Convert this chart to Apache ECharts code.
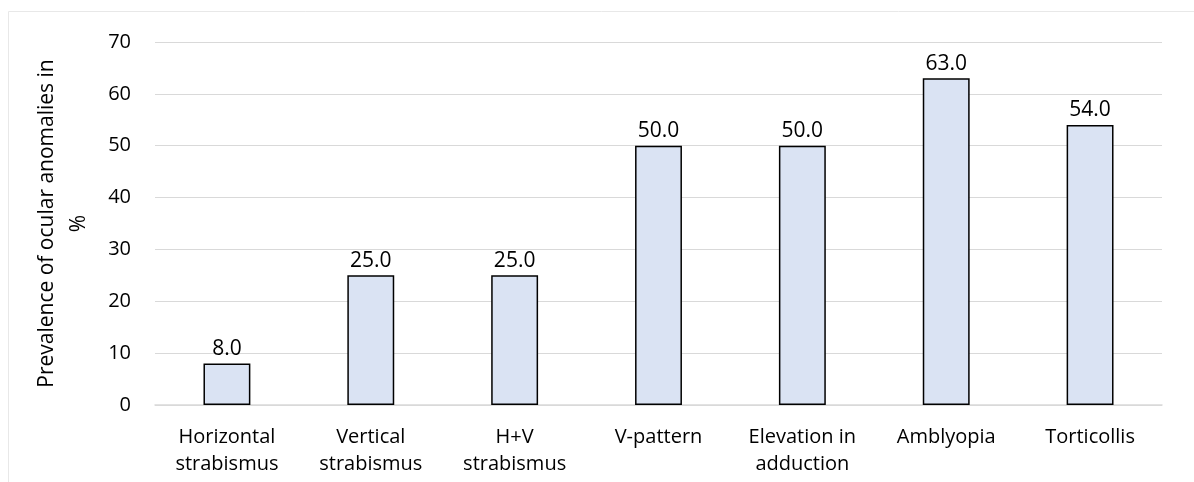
<!DOCTYPE html>
<html>
<head>
<meta charset="utf-8">
<script src="https://cdn.jsdelivr.net/npm/echarts@6/dist/echarts.min.js"></script>
<style>
html,body{margin:0;padding:0;background:#fff;}
#chart{width:1194px;height:482px;}
</style>
</head>
<body>
<div id="chart"></div>
<script>
const categories = ["Horizontal\nstrabismus", "Vertical\nstrabismus", "H+V\nstrabismus", "V-pattern", "Elevation in\nadduction", "Amblyopia", "Torticollis"];
const prevalence = [8.0, 25.0, 25.0, 50.0, 50.0, 63.0, 54.0];
const yAxisTitle = "Prevalence of ocular anomalies in\n%";
const yMin = 0, yMax = 70, yInterval = 10;

const chart = echarts.init(document.getElementById('chart'));
const font = "'Open Sans', sans-serif";
chart.setOption({
  animation: false,
  backgroundColor: '#ffffff',
  graphic: [{
    type: 'rect',
    shape: { x: 8.5, y: 11.5, width: 1200, height: 500 },
    style: { fill: 'none', stroke: '#e8e8e8', lineWidth: 1 },
    silent: true
  }],
  grid: { left: 155, right: 32, top: 42, bottom: 77 },
  xAxis: {
    type: 'category',
    data: categories,
    axisTick: { show: false },
    axisLine: { lineStyle: { color: '#d9d9d9', width: 1.5 } },
    axisLabel: { color: '#000', fontFamily: font, fontSize: 20, lineHeight: 27, margin: 19, interval: 0 }
  },
  yAxis: {
    type: 'value',
    min: yMin, max: yMax, interval: yInterval,
    name: yAxisTitle,
    nameLocation: 'middle',
    nameRotate: 90,
    nameGap: 60,
    nameTextStyle: { color: '#000', fontFamily: font, fontSize: 21, lineHeight: 32 },
    axisLine: { show: false },
    axisTick: { show: false },
    axisLabel: { color: '#000', fontFamily: font, fontSize: 20, margin: 24 },
    splitLine: { lineStyle: { color: '#d9d9d9', width: 1.2 } }
  },
  series: [{
    type: 'bar',
    data: prevalence,
    barWidth: '32.6%',
    itemStyle: { color: '#dae3f3', borderColor: '#000', borderWidth: 1.5 },
    label: {
      show: true, position: 'top', distance: 4,
      color: '#000', fontFamily: font, fontSize: 21,
      formatter: p => p.value.toFixed(1)
    }
  }]
});
</script>
</body>
</html>
